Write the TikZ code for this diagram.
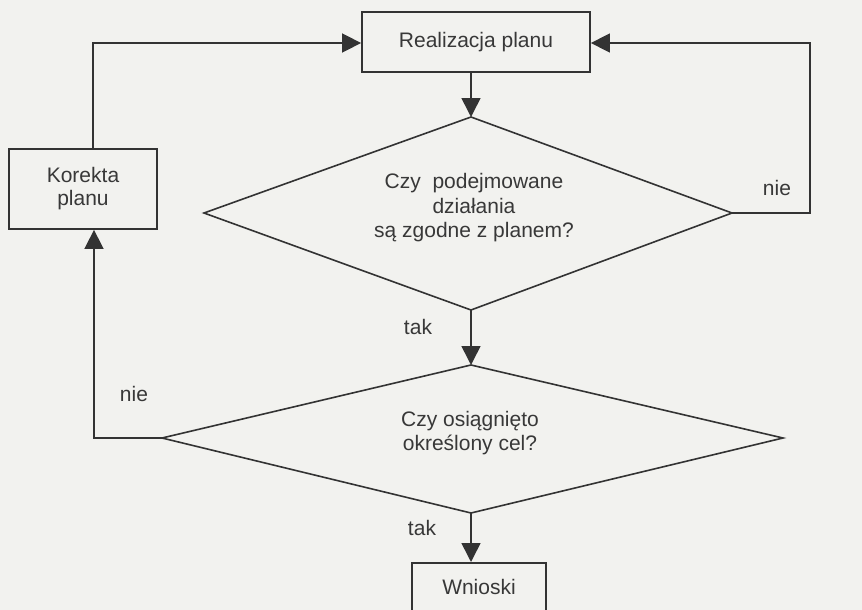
\documentclass[tikz,border=0pt]{standalone}
\usepackage{fontspec}
\setmainfont{Liberation Sans}
\usetikzlibrary{arrows.meta}
\definecolor{bg}{HTML}{F2F2EF}
\definecolor{ink}{HTML}{333333}
\definecolor{txt}{HTML}{383838}
\begin{document}
\begin{tikzpicture}[x=1pt,y=-1pt,
  line width=1.5pt, draw=ink,
  conn/.style={draw=ink,line width=1.6pt,-{Triangle[length=19pt,width=19pt]}},
  boxnode/.style={draw=ink,line width=1.8pt,fill=bg,inner sep=0pt,text=txt,align=center,font=\fontsize{21}{23}\selectfont},
  lbl/.style={text=txt,align=center,font=\fontsize{21}{24.5}\selectfont,inner sep=0pt},
  shape=rectangle]
\useasboundingbox (0,0) rectangle (862,610);
\fill[bg] (0,0) rectangle (862,610);
% boxes
\node[boxnode,minimum width=228pt,minimum height=60pt] (real) at (476,42) {Realizacja planu};
\node[boxnode,minimum width=148pt,minimum height=80pt] (kor) at (83,189) {Korekta\\planu};
\node[boxnode,minimum width=134pt,minimum height=50pt,anchor=north] (wn) at (479,562) {};
\node[lbl] (wntxt) at (479,587) {Wnioski};
% diamond 1
\coordinate (d1l) at (204,213);
\coordinate (d1t) at (471,117);
\coordinate (d1r) at (732,213);
\coordinate (d1b) at (471,310);
\draw[line width=1.6pt] (d1l) -- (d1t) -- (d1r) -- (d1b) -- cycle;
\node[lbl] (q1) at (474,208) {Czy\ \ podejmowane\\działania\\są zgodne z planem?};
% diamond 2
\coordinate (d2l) at (162,438);
\coordinate (d2t) at (471,365);
\coordinate (d2r) at (783,438);
\coordinate (d2b) at (471,513);
\draw[line width=1.6pt] (d2l) -- (d2t) -- (d2r) -- (d2b) -- cycle;
\node[lbl] (q2) at (470,433) {Czy osiągnięto\\określony cel?};
% connectors
\draw[conn] (real.south -| d1t) -- (d1t);
\draw[conn] (d1b) -- (d2t);
\draw[conn] (d2b) -- (d2b |- wn.north);
\coordinate (rc) at (810,213);
\coordinate (rt) at (810,43);
\draw[conn] (d1r) -- (rc) -- (rt) -- (real.east |- rt);
\coordinate (lc) at (94,438);
\draw[conn] (d2l) -- (lc) -- (lc |- kor.south);
\coordinate (lt) at (93,43);
\draw[conn] (kor.north -| lt) -- (lt) -- (real.west |- lt);
% labels
\node[lbl] (n1) at (777,188) {nie};
\node[lbl] (n2) at (134,394) {nie};
\node[lbl] (t1) at (418,327) {tak};
\node[lbl] (t2) at (422,528) {tak};
\end{tikzpicture}
\end{document}
